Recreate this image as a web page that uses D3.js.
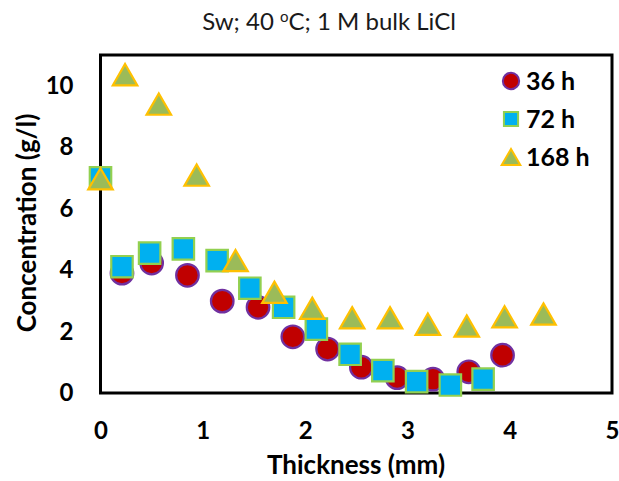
<!DOCTYPE html>
<html>
<head>
<meta charset="utf-8">
<script src="https://cdn.jsdelivr.net/npm/d3@7"></script>
<style>
  html, body { margin: 0; padding: 0; background: #fff; }
  svg { display: block; }
  text { font-family: Lato, "Open Sans", sans-serif; }
</style>
</head>
<body>
<svg id="chart" width="619" height="481"></svg>
<script>
// Concentration profiles across the sample thickness
const series = ["36 h", "72 h", "168 h"];

const x36 = [0.21, 0.50, 0.85, 1.19, 1.54, 1.88, 2.22, 2.55, 2.90, 3.25, 3.60, 3.93];
const y36 = [3.90, 4.23, 3.83, 2.99, 2.79, 1.83, 1.43, 0.84, 0.50, 0.45, 0.69, 1.23];

const x72 = [0.00, 0.21, 0.48, 0.81, 1.14, 1.46, 1.79, 2.11, 2.44, 2.76, 3.09, 3.42, 3.74];
const y72 = [7.00, 4.11, 4.55, 4.69, 4.31, 3.41, 2.79, 2.08, 1.26, 0.73, 0.37, 0.26, 0.45];

const x168 = [0.00, 0.24, 0.57, 0.94, 1.32, 1.70, 2.07, 2.46, 2.83, 3.20, 3.58, 3.95, 4.33];
const y168 = [6.97, 10.36, 9.40, 7.09, 4.31, 3.28, 2.76, 2.45, 2.45, 2.24, 2.18, 2.48, 2.57];

const xTicks = [0, 1, 2, 3, 4, 5];
const yTicks = [0, 2, 4, 6, 8, 10];

const svg = d3.select("#chart");

const plotL = 100.5, plotR = 612, plotT = 55, plotB = 393;
const x = d3.scaleLinear().domain([0, 5]).range([plotL, plotR]);
const y = d3.scaleLinear().domain([0, 11]).range([plotB, plotT]);

// Title with superscript degree mark
const title = svg.append("text")
  .attr("x", 329).attr("y", 30)
  .attr("text-anchor", "middle")
  .attr("font-size", 24)
  .attr("fill", "#1a1a1a");
title.append("tspan").text("Sw; 40 ");
title.append("tspan").attr("font-size", 15).attr("dy", -8).text("o");
title.append("tspan").attr("dy", 8).text("C; 1 M bulk LiCl");

// Axes (labels only, no tick marks)
const tickFont = g => g.selectAll("text")
  .attr("font-family", "Lato, sans-serif")
  .attr("font-size", 24).attr("font-weight", "bold").attr("fill", "#000");

const xAxis = svg.append("g")
  .attr("transform", `translate(0,${plotB})`)
  .call(d3.axisBottom(x).tickValues(xTicks).tickSize(0).tickPadding(29).tickFormat(d3.format("d")));
xAxis.select(".domain").remove();
tickFont(xAxis);

const yAxis = svg.append("g")
  .attr("transform", `translate(${plotL},0)`)
  .call(d3.axisLeft(y).tickValues(yTicks).tickSize(0).tickPadding(27).tickFormat(d3.format("d")));
yAxis.select(".domain").remove();
tickFont(yAxis);

// Axis titles
svg.append("text")
  .attr("x", 356).attr("y", 474)
  .attr("text-anchor", "middle")
  .attr("font-size", 26).attr("font-weight", "bold").attr("fill", "#000")
  .text("Thickness (mm)");

svg.append("text")
  .attr("transform", `translate(36,${(plotT + plotB) / 2 - 1}) rotate(-90)`)
  .attr("text-anchor", "middle")
  .attr("font-size", 26).attr("font-weight", "bold").attr("fill", "#000")
  .text("Concentration (g/l)");

// Plot frame
svg.append("rect")
  .attr("x", plotL).attr("y", plotT)
  .attr("width", plotR - plotL).attr("height", plotB - plotT)
  .attr("fill", "none").attr("stroke", "#000").attr("stroke-width", 3);

// Upward triangle centred on its bounding box
const boxTriangle = {
  draw(context, size) {
    const s = Math.sqrt(size * 4 / Math.sqrt(3));
    const h = s * Math.sqrt(3) / 2;
    context.moveTo(0, -h / 2);
    context.lineTo(s / 2, h / 2);
    context.lineTo(-s / 2, h / 2);
    context.closePath();
  }
};

const styles = {
  "36 h":  { fill: "#C00000", stroke: "#7030A0", symbol: d3.symbolCircle, size: 400 },
  "72 h":  { fill: "#00B0F0", stroke: "#92D050", symbol: d3.symbolSquare, size: 460 },
  "168 h": { fill: "#9BBB59", stroke: "#FFC000", symbol: boxTriangle,     size: 260 }
};

function drawSeries(name, xs, ys) {
  const s = styles[name];
  const pts = xs.map((v, i) => [v, ys[i]]);
  svg.append("g").selectAll("path")
    .data(pts).join("path")
    .attr("transform", d => `translate(${x(d[0])},${y(d[1])})`)
    .attr("d", d3.symbol().type(s.symbol).size(s.size)())
    .attr("fill", s.fill)
    .attr("stroke", s.stroke)
    .attr("stroke-width", 2.2);
}

drawSeries("36 h", x36, y36);
drawSeries("72 h", x72, y72);
drawSeries("168 h", x168, y168);

// Legend
const legend = svg.append("g");
const legendSizes = { "36 h": 210, "72 h": 200, "168 h": 150 };
series.forEach((name, i) => {
  const s = styles[name];
  const cy = 81 + i * 38;
  legend.append("path")
    .attr("transform", `translate(511,${cy})`)
    .attr("d", d3.symbol().type(s.symbol).size(legendSizes[name])())
    .attr("fill", s.fill).attr("stroke", s.stroke).attr("stroke-width", 2);
  legend.append("text")
    .attr("x", 526).attr("y", cy + 8.5)
    .attr("font-size", 25).attr("font-weight", "bold").attr("fill", "#000")
    .text(name);
});
</script>
</body>
</html>
